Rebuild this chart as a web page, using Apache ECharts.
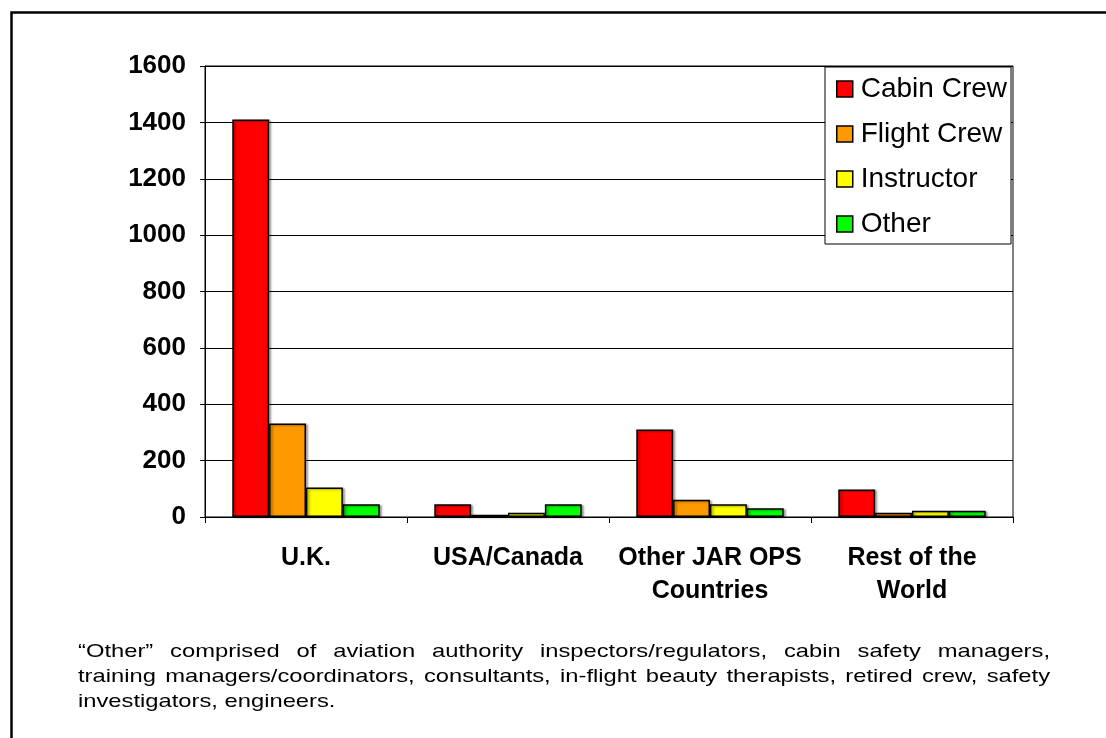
<!DOCTYPE html>
<html>
<head>
<meta charset="utf-8">
<script src="https://cdn.jsdelivr.net/npm/echarts@6/dist/echarts.min.js"></script>
<style>
  html, body { margin: 0; padding: 0; background: #fff; }
  #chart { width: 1106px; height: 738px; }
</style>
</head>
<body>
<div id="chart"></div>
<script>
// regions on the x axis
var categories = ['U.K.', 'USA/Canada', 'Other JAR OPS\nCountries', 'Rest of the\nWorld'];
// respondents per group
var cabinCrew = [1410, 45, 310, 98];
var flightCrew = [332, 8, 61, 15];
var instructor = [105, 15, 45, 22];
var other = [45, 45, 31, 22];
var yTicks = { min: 0, max: 1600, step: 200 };

var footnote = [
  '\u201cOther\u201d comprised of aviation authority inspectors/regulators, cabin safety managers,',
  'training managers/coordinators, consultants, in-flight beauty therapists, retired crew, safety',
  'investigators, engineers.'
];

var font = 'Arial, "Liberation Sans", sans-serif';

function bar(name, color, data) {
  return {
    name: name,
    type: 'bar',
    barGap: 0,
    barCategoryGap: '27%',
    itemStyle: {
      color: color,
      borderColor: '#000',
      borderWidth: 1.5,
      shadowColor: 'rgba(0,0,0,0.35)',
      shadowOffsetX: 2,
      shadowOffsetY: 1,
      shadowBlur: 2
    },
    emphasis: { disabled: true },
    data: data
  };
}

// the note under the chart is justified in the original: spread the words
// of every line but the last across the text column
function footnoteGraphics() {
  var size = 19, stretch = 1.25, left = 78, colWidth = 972, top = 642, lead = 25;
  var ctx = document.createElement('canvas').getContext('2d');
  ctx.font = size + 'px ' + font;
  var out = [];
  footnote.forEach(function (line, i) {
    var words = line.split(' ');
    var widths = words.map(function (w) { return ctx.measureText(w).width * stretch; });
    var total = widths.reduce(function (a, b) { return a + b; }, 0);
    var last = i === footnote.length - 1;
    var gap = last ? ctx.measureText(' ').width * stretch : (colWidth - total) / (words.length - 1);
    var x = left;
    words.forEach(function (w, j) {
      out.push({
        type: 'text',
        x: x,
        y: top + i * lead,
        scaleX: stretch,
        style: { text: w, fontFamily: font, fontSize: size, fill: '#000' },
        silent: true
      });
      x += widths[j] + gap;
    });
  });
  return out;
}

var chart = echarts.init(document.getElementById('chart'));
chart.setOption({
  animation: false,
  backgroundColor: '#fff',
  grid: {
    left: 205, right: 93, top: 66, bottom: 221,
    show: true, borderColor: '#000', borderWidth: 1
  },
  legend: {
    orient: 'vertical',
    left: 825,
    top: 67,
    padding: [8, 4, 6, 11],
    itemGap: 17,
    itemWidth: 16,
    itemHeight: 16,
    icon: 'rect',
    backgroundColor: '#fff',
    borderColor: '#000',
    borderWidth: 1,
    itemStyle: { borderColor: '#000', borderWidth: 1.5 },
    textStyle: { fontFamily: font, fontSize: 28, lineHeight: 28, color: '#000', padding: [0, 0, 0, 3] },
    data: ['Cabin Crew', 'Flight Crew', 'Instructor', 'Other']
  },
  xAxis: {
    type: 'category',
    data: categories,
    axisLine: { lineStyle: { color: '#000', width: 1 } },
    axisTick: { show: true, length: 6, lineStyle: { color: '#000' } },
    axisLabel: {
      fontFamily: font, fontSize: 25, fontWeight: 'bold', color: '#000',
      margin: 25, lineHeight: 33, interval: 0
    }
  },
  yAxis: {
    type: 'value',
    min: yTicks.min,
    max: yTicks.max,
    interval: yTicks.step,
    axisLine: { show: true, lineStyle: { color: '#000', width: 1 } },
    axisTick: { show: true, length: 5, lineStyle: { color: '#000' } },
    splitLine: { lineStyle: { color: '#000', width: 1 } },
    axisLabel: {
      fontFamily: font, fontSize: 26, fontWeight: 'bold', color: '#000', margin: 19,
      formatter: function (v) { return String(v); }
    }
  },
  series: [
    bar('Cabin Crew', '#ff0000', cabinCrew),
    bar('Flight Crew', '#ff9900', flightCrew),
    bar('Instructor', '#ffff00', instructor),
    bar('Other', '#00ff00', other)
  ],
  graphic: [
    {
      type: 'rect',
      left: 9, top: 10,
      shape: { width: 1200, height: 800 },
      style: { fill: 'none', stroke: '#000', lineWidth: 2.5 },
      silent: true
    }
  ].concat(footnoteGraphics())
});
</script>
</body>
</html>
